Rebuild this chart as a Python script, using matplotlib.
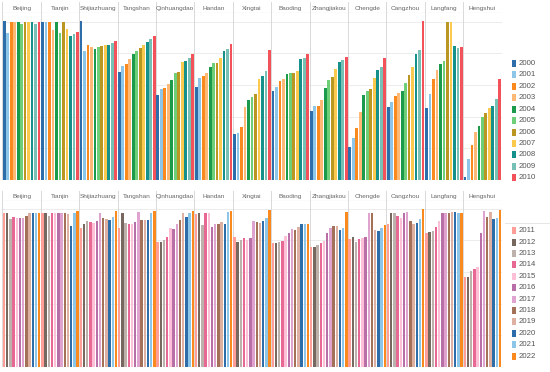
import matplotlib
matplotlib.use("Agg")
import matplotlib.pyplot as plt
from matplotlib.patches import Rectangle
import numpy as np

cities = ["Beijing", "Tianjin", "Shijiazhuang", "Tangshan", "Qinhuangdao", "Handan",
          "Xingtai", "Baoding", "Zhangjiakou", "Chengde", "Cangzhou", "Langfang", "Hengshui"]
years_top = [str(y) for y in range(2000, 2011)]
years_bottom = [str(y) for y in range(2011, 2023)]

# ---- values 2000-2010 (one list per city) ----
beijing_a      = [5.02, 4.65, 5.00, 5.00, 5.00, 4.93, 5.00, 4.99, 4.99, 4.93, 4.98]
tianjin_a      = [5.00, 5.00, 4.98, 4.74, 4.98, 4.63, 4.98, 4.76, 4.56, 4.60, 4.68]
shijiazhuang_a = [5.02, 4.08, 4.26, 4.21, 4.14, 4.21, 4.24, 4.26, 4.26, 4.32, 4.40]
tangshan_a     = [3.42, 3.60, 3.66, 3.81, 3.98, 4.08, 4.18, 4.26, 4.37, 4.44, 4.55]
qinhuangdao_a  = [2.68, 2.87, 2.91, 3.02, 3.16, 3.37, 3.42, 3.72, 3.77, 3.84, 3.98]
handan_a       = [2.95, 3.23, 3.28, 3.37, 3.56, 3.70, 3.70, 3.84, 4.07, 4.14, 4.29]
xingtai_a      = [1.45, 1.47, 1.66, 2.30, 2.53, 2.61, 2.71, 3.18, 3.28, 3.45, 4.10]
baoding_a      = [2.82, 2.95, 3.13, 3.19, 3.34, 3.37, 3.39, 3.45, 3.82, 3.86, 3.97]
zhangjiakou_a  = [2.18, 2.34, 2.34, 2.53, 2.91, 3.16, 3.26, 3.50, 3.72, 3.79, 3.87]
chengde_a      = [1.05, 1.32, 1.63, 2.16, 2.68, 2.81, 2.88, 3.21, 3.47, 3.58, 3.86]
cangzhou_a     = [2.32, 2.47, 2.65, 2.74, 2.82, 3.05, 3.32, 3.58, 3.97, 4.10, 5.02]
langfang_a     = [2.28, 2.71, 3.19, 3.47, 3.66, 3.76, 5.00, 5.00, 4.23, 4.16, 4.21]
hengshui_a     = [0.10, 0.65, 1.10, 1.53, 1.70, 1.98, 2.10, 2.26, 2.34, 2.55, 3.18]

# ---- values 2011-2022 (one list per city) ----
beijing_b      = [4.85, 4.85, 4.66, 4.75, 4.71, 4.71, 4.71, 4.78, 4.87, 4.87, 4.87, 4.87]
tianjin_b      = [4.85, 4.85, 4.77, 4.85, 4.85, 4.87, 4.87, 4.87, 4.83, 4.46, 4.85, 4.92]
shijiazhuang_b = [4.40, 4.51, 4.60, 4.58, 4.54, 4.61, 4.87, 4.70, 4.66, 4.63, 4.75, 4.93]
tangshan_b     = [4.40, 4.85, 4.56, 4.51, 4.51, 4.59, 4.90, 4.65, 4.65, 4.65, 4.85, 4.94]
qinhuangdao_b  = [3.96, 3.94, 4.00, 4.10, 4.39, 4.37, 4.50, 4.64, 4.85, 4.75, 4.85, 4.94]
handan_b       = [4.84, 4.87, 4.48, 4.85, 4.85, 4.41, 4.51, 4.51, 4.57, 4.53, 4.88, 4.93]
xingtai_b      = [4.09, 3.94, 4.01, 4.08, 4.01, 4.08, 4.61, 4.57, 4.56, 4.61, 4.70, 4.96]
baoding_b      = [3.92, 3.92, 3.96, 3.97, 4.15, 4.22, 4.36, 4.33, 4.43, 4.51, 4.51, 4.53]
zhangjiakou_b  = [3.79, 3.80, 3.84, 3.92, 3.98, 4.22, 4.40, 4.44, 4.46, 4.32, 4.40, 4.88]
chengde_b      = [4.03, 4.11, 3.94, 4.04, 4.06, 4.10, 4.87, 4.87, 4.33, 4.28, 4.40, 4.47]
cangzhou_b     = [4.51, 4.85, 4.85, 4.78, 4.71, 4.86, 4.89, 4.61, 4.52, 4.56, 4.67, 4.98]
langfang_b     = [4.23, 4.25, 4.28, 4.43, 4.60, 4.85, 4.85, 4.85, 4.90, 4.88, 4.85, 4.85]
hengshui_b     = [2.83, 2.85, 3.04, 3.09, 3.16, 4.24, 4.94, 4.75, 4.88, 4.66, 4.71, 4.96]

data_top = [beijing_a, tianjin_a, shijiazhuang_a, tangshan_a, qinhuangdao_a, handan_a,
            xingtai_a, baoding_a, zhangjiakou_a, chengde_a, cangzhou_a, langfang_a, hengshui_a]
data_bottom = [beijing_b, tianjin_b, shijiazhuang_b, tangshan_b, qinhuangdao_b, handan_b,
               xingtai_b, baoding_b, zhangjiakou_b, chengde_b, cangzhou_b, langfang_b, hengshui_b]

colors_top = ["#2D6DA9", "#8EC6EA", "#FB8A1E", "#FFB977", "#1A9A4A", "#6FCF78",
              "#BA9622", "#FCC94F", "#16908B", "#76C0B5", "#F3525B"]
colors_bottom = ["#FF9F97", "#77685F", "#BCB2AB", "#E66893", "#FDC0D6", "#B86EA6",
                 "#DEA3CE", "#A27158", "#DDB0A2", "#2D6DA9", "#8EC6EA", "#FB8A1E"]

W, H = 550, 372
fig = plt.figure(figsize=(W / 100, H / 100), dpi=100)
fig.patch.set_facecolor("white")

X0, X1 = 2.4, 501.6
UNIT = 31.67
FONT = ["Liberation Sans Narrow", "Liberation Sans", "DejaVu Sans"]
GRID = "#ececec"
SEP = "#d9d9d9"


def px_axes(x0, y0, x1, y1):
    return fig.add_axes([x0 / W, 1 - y1 / H, (x1 - x0) / W, (y1 - y0) / H])


def panel(hdr_top, plot_top, plot_bottom, data, years, colors):
    n = len(years)
    arr = np.array(data)
    ncity = len(cities)
    ax = px_axes(X0, plot_top, X1, plot_bottom)
    slot = 1.0 / n
    for j in range(n):
        xs = np.arange(ncity) + (j + 0.5) * slot
        ax.bar(xs, arr[:, j], width=slot * 0.8, color=colors[j], linewidth=0, zorder=3)
    ax.set_xlim(0, ncity)
    ax.set_ylim(0, (plot_bottom - plot_top) / UNIT)
    ax.set_xticks([])
    ax.set_yticks([])
    for s in ax.spines.values():
        s.set_visible(False)
    for k in range(1, 6):
        ax.axhline(k, color=GRID, lw=0.7, zorder=1)
    for i in range(ncity + 1):
        ax.axvline(i, color=SEP, lw=0.7, zorder=2)
    ax.patch.set_alpha(0)

    hd = px_axes(X0, hdr_top, X1, plot_top)
    hd.set_xlim(0, ncity)
    hd.set_ylim(0, 1)
    hd.set_xticks([])
    hd.set_yticks([])
    for s in hd.spines.values():
        s.set_visible(False)
    hd.axhline(0, color="#c8c8c8", lw=0.8)
    for i in range(ncity + 1):
        hd.axvline(i, color=SEP, lw=0.7)
    for i, c in enumerate(cities):
        hd.text(i + 0.5, 0.45, c, ha="center", va="center", fontsize=4.6,
                color="#666666", family=FONT)
    hd.patch.set_alpha(0)


panel(2, 13.3, 180, data_top, years_top, colors_top)
panel(191, 201, 367, data_bottom, years_bottom, colors_bottom)

# legends in pixel space
lg = fig.add_axes([0, 0, 1, 1])
lg.set_xlim(0, W)
lg.set_ylim(H, 0)
lg.axis("off")
lg.patch.set_alpha(0)


def legend(y_first, step, years, colors):
    for k, (yr, col) in enumerate(zip(years, colors)):
        yc = y_first + k * step
        lg.add_patch(Rectangle((511.5, yc - 3.5), 4.4, 7, color=col, lw=0))
        lg.text(518.5, yc, yr, ha="left", va="center", fontsize=5.6,
                color="#555555", family=FONT)


legend(63.3, 11.45, years_top, colors_top)
lg.plot([505, 550], [223.3, 223.3], color="#e6e6e6", lw=0.7)
legend(230.7, 11.4, years_bottom, colors_bottom)

fig.savefig("out.png", dpi=100)
